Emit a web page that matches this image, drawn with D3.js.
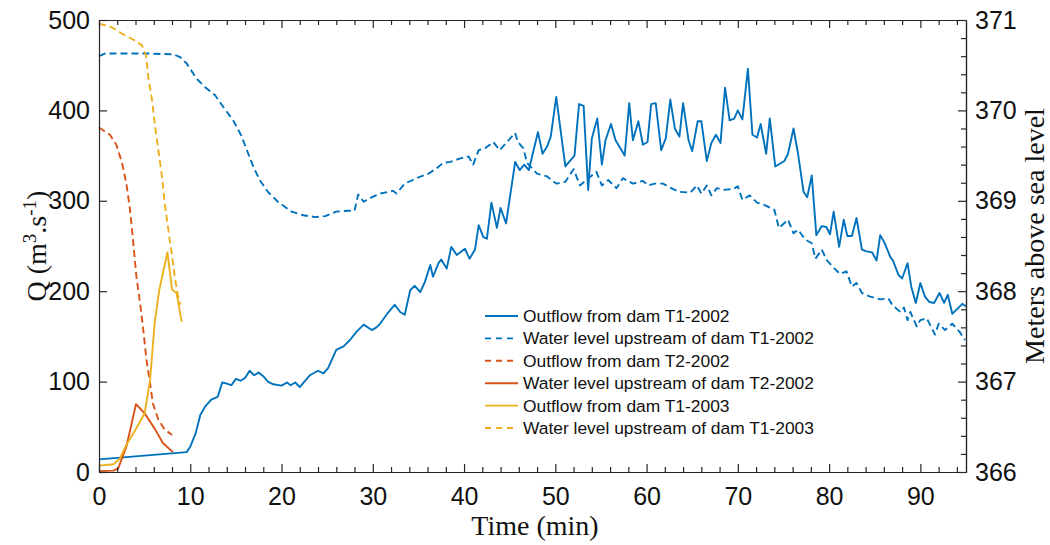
<!DOCTYPE html>
<html>
<head>
<meta charset="utf-8">
<script src="https://cdn.jsdelivr.net/npm/d3@7"></script>
<style>
  html, body { margin: 0; padding: 0; background: #fff; }
  svg { display: block; }
</style>
</head>
<body>
<svg id="chart" width="1050" height="545"></svg>
<script>
// ---------- data ----------
const xTicks = [0, 10, 20, 30, 40, 50, 60, 70, 80, 90];
const yLeftTicks = [0, 100, 200, 300, 400, 500];
const yRightTicks = [366, 367, 368, 369, 370, 371];

const legendLabels = [
  "Outflow from dam T1-2002",
  "Water level upstream of dam T1-2002",
  "Outflow from dam T2-2002",
  "Water level upstream of dam T2-2002",
  "Outflow from dam T1-2003",
  "Water level upstream of dam T1-2003"
];

// Outflow from dam T1-2002 (solid blue, left axis, m3/s)
const t1_2002_time = [0,9.6,10,10.6,11.1,11.6,12.3,13,13.5,13.9,14.5,15,15.5,16,16.5,17,17.5,18,18.5,19.1,20,20.6,21,21.5,22,22.6,23.1,24,24.6,25.1,26,26.8,27.5,28.2,29,29.9,30.4,30.8,31.5,32.4,33,33.5,34.1,34.6,35.2,35.7,36.3,36.6,37.2,37.5,38.1,38.6,39.2,40.1,40.6,41.2,41.6,42.1,42.5,43,43.6,44,44.6,45.6,46.1,46.6,47.1,48.1,48.6,49.1,49.5,50.1,51.1,52.1,52.6,53.1,53.6,54,54.6,55.1,55.5,56.1,56.6,57.6,58.1,58.5,59.1,59.6,60.1,60.5,61,61.6,62.1,62.6,63.1,63.6,64,64.6,65,65.6,66,66.6,67.1,67.6,68.1,68.6,69.1,69.6,70,70.5,71.1,71.6,72.1,72.5,73.1,73.5,74.1,74.6,75.1,75.5,76.1,76.6,77.2,77.6,78.1,78.6,79.2,79.7,80.1,80.5,81.1,81.6,82,82.5,83,83.6,84.1,84.7,85.2,85.6,86.1,86.7,87,87.6,88,88.6,89,89.5,90,90.5,91,91.5,92.1,92.6,93,93.5,94.1,94.6,95];
const t1_2002_outflow = [14,22,28,43,63,72,80,83,99,98,96,103,101,104,112,107,110,106,100,97,95.5,99,96,99,94,101,107,112,109,115,135,139,146,155,163,157,160,164,174,185,177,174,201,206,199,210,229,216,231,235,225,249,240,247,236,246,273,260,258,298,270,292,275,343,334,340,334,376,352,360,371,415,338,350,407,405,312,369,391,340,367,385,367,350,408,367,388,362,365,407,408,356,369,412,380,371,408,367,355,388,388,344,364,373,364,425,389,391,400,390,446,373,370,385,352,391,338,341,344,352,380,352,310,304,328,262,272,271,263,288,249,279,261,261,281,246,244,243,234,262,253,238,234,218,214,231,205,187,209,194,188,187,198,187,196,175,181,186,183];

// Water level upstream of dam T1-2002 (dashed blue, right axis, m a.s.l.)
const t1_2002_level_time = [0,0.7,5.2,8.1,8.9,9.6,10.7,11.6,12.7,13.6,14.7,15.6,16.2,16.9,17.6,18.5,19.6,21.1,22.4,23.7,24.8,26,27.3,28,28.4,29,29.9,30.8,32.2,32.6,33.5,34.8,36.1,37,37.7,38.5,39.6,40.5,41,41.6,42.3,43.2,43.9,44.7,45.6,45.9,46.5,46.9,48,49.1,50.1,51.1,52,52.7,53.4,54.5,55.1,55.8,56.7,57.4,58.5,59.6,60.2,60.9,61.8,62.7,63.5,64.8,65.5,66,66.6,67.1,67.7,68.4,69.5,70,70.5,71.3,72.1,73,74,74.5,75.5,76.1,76.6,77.4,78.1,78.5,79.2,79.7,80.4,81.2,81.9,82.5,83,83.6,84.5,85.6,86.5,86.9,87.8,88.2,88.6,88.9,89.6,90,90.7,91.6,92,92.7,93.5,94.3,94.9];
const t1_2002_level = [370.6,370.63,370.63,370.62,370.59,370.52,370.35,370.26,370.17,370.04,369.89,369.72,369.56,369.38,369.23,369.10,368.99,368.88,368.84,368.82,368.83,368.88,368.89,368.89,369.07,368.99,369.04,369.08,369.11,369.08,369.19,369.25,369.30,369.36,369.42,369.43,369.47,369.49,369.40,369.56,369.58,369.65,369.56,369.65,369.75,369.65,369.58,369.42,369.30,369.27,369.19,369.21,369.35,369.17,369.23,369.32,369.17,369.23,369.14,369.25,369.19,369.22,369.17,369.19,369.19,369.14,369.10,369.09,369.17,369.08,369.17,369.06,369.14,369.12,369.13,369.16,369.01,369.06,368.98,368.95,368.90,368.70,368.79,368.64,368.68,368.57,368.53,368.36,368.46,368.35,368.27,368.19,368.22,368.05,368.09,367.98,367.94,367.91,367.92,367.85,367.77,367.82,367.68,367.77,367.61,367.68,367.70,367.52,367.64,367.57,367.64,367.55,367.46];

// Outflow from dam T2-2002 (dashed orange, right axis)
const t2_2002_dash_time = [0,1.2,1.9,2.5,3.0,3.4,3.7,4.1,4.5,4.9,5.2,5.6,5.9,6.5,7.2,8.0];
const t2_2002_dash = [369.81,369.73,369.62,369.43,369.19,368.90,368.60,368.16,367.87,367.53,367.24,366.98,366.76,366.58,366.47,366.41];

// Water level upstream of dam T2-2002 (solid orange, left axis)
const t2_2002_solid_time = [0,1.6,2.1,3.0,4.05,5.0,6.1,7.0,8.1];
const t2_2002_solid = [1,1.5,4,28,75,65,48,32,22];

// Outflow from dam T1-2003 (solid yellow, left axis)
const t1_2003_time = [0,1.6,2.3,3.0,3.9,5.0,5.6,6.1,6.6,7.5,8.0,8.5,9.06];
const t1_2003_outflow = [7,8.5,15,30,45,65,102,165,201,243,202,198,166];

// Water level upstream of dam T1-2003 (dashed yellow, right axis)
const t1_2003_level_time = [0,1.4,2.5,3.8,4.7,5.15,5.4,5.8,6.1,6.5,6.9,7.2,7.5,7.8,8.0,8.3,8.6,8.9];
const t1_2003_level = [370.96,370.92,370.85,370.78,370.72,370.61,370.37,370.12,369.86,369.56,369.27,368.97,368.75,368.53,368.40,368.16,367.98,367.85];

// ---------- layout ----------
const svg = d3.select("#chart");
const L = 99, R = 966, T = 20, B = 472;
const axisColor = "#262626";
const blue = "#0072BD", orange = "#D95319", yellow = "#EDB120";

const x = d3.scaleLinear().domain([0, 95]).range([L, R]);
const yL = d3.scaleLinear().domain([0, 500]).range([B, T]);
const yR = d3.scaleLinear().domain([366, 371]).range([B, T]);

const zip = (a, b) => a.map((v, i) => [v, b[i]]);

const series = [
  {data: zip(t1_2002_time, t1_2002_outflow), y: yL, color: blue, dash: null},
  {data: zip(t1_2002_level_time, t1_2002_level), y: yR, color: blue, dash: "7,4"},
  {data: zip(t2_2002_dash_time, t2_2002_dash), y: yR, color: orange, dash: "7,4"},
  {data: zip(t2_2002_solid_time, t2_2002_solid), y: yL, color: orange, dash: null},
  {data: zip(t1_2003_time, t1_2003_outflow), y: yL, color: yellow, dash: null},
  {data: zip(t1_2003_level_time, t1_2003_level), y: yR, color: yellow, dash: "7,4"}
];

// ---------- lines ----------
const g = svg.append("g");
series.forEach(s => {
  const line = d3.line().x(d => x(d[0])).y(d => s.y(d[1]));
  g.append("path")
    .datum(s.data)
    .attr("d", line)
    .attr("fill", "none")
    .attr("stroke", s.color)
    .attr("stroke-width", 1.9)
    .attr("stroke-linejoin", "round")
    .attr("stroke-dasharray", s.dash);
});

// ---------- axes ----------
function styleAxis(sel) {
  sel.selectAll("path.domain").attr("stroke", axisColor).attr("stroke-width", 1.2);
  sel.selectAll(".tick line").attr("stroke", axisColor).attr("stroke-width", 1.2);
  sel.selectAll(".tick text")
    .attr("fill", "#111")
    .style("font-family", "'Liberation Sans', Arial, sans-serif")
    .style("font-size", "25px");
}
const minorX = d3.range(0, 96, 2).filter(v => v % 10 !== 0);
const minorR = d3.range(0, 26).map(i => 366 + i * 0.2).filter((v, i) => i % 5 !== 0);

// bottom
svg.append("g").attr("transform", `translate(0,${B})`)
  .call(d3.axisBottom(x).tickValues(xTicks).tickSizeInner(-8).tickSizeOuter(0).tickPadding(15).tickFormat(d3.format("d")))
  .call(styleAxis).call(s => s.selectAll(".tick text").attr("dy", "0.71em"));
svg.append("g").attr("transform", `translate(0,${B})`)
  .call(d3.axisBottom(x).tickValues(minorX).tickSizeInner(-5).tickSizeOuter(0).tickFormat(""))
  .call(styleAxis);
// top
svg.append("g").attr("transform", `translate(0,${T})`)
  .call(d3.axisTop(x).tickValues(xTicks).tickSizeInner(-8).tickSizeOuter(0).tickFormat(""))
  .call(styleAxis);
svg.append("g").attr("transform", `translate(0,${T})`)
  .call(d3.axisTop(x).tickValues(minorX).tickSizeInner(-5).tickSizeOuter(0).tickFormat(""))
  .call(styleAxis);
// left
svg.append("g").attr("transform", `translate(${L},0)`)
  .call(d3.axisLeft(yL).tickValues(yLeftTicks).tickSizeInner(-8).tickSizeOuter(0).tickPadding(9).tickFormat(d3.format("d")))
  .call(styleAxis);
// right
svg.append("g").attr("transform", `translate(${R},0)`)
  .call(d3.axisRight(yR).tickValues(yRightTicks).tickSizeInner(-8).tickSizeOuter(0).tickPadding(9).tickFormat(d3.format("d")))
  .call(styleAxis);
svg.append("g").attr("transform", `translate(${R},0)`)
  .call(d3.axisRight(yR).tickValues(minorR).tickSizeInner(-5).tickSizeOuter(0).tickFormat(""))
  .call(styleAxis);

// ---------- axis titles ----------
const serif = "'Liberation Serif', 'Times New Roman', serif";
svg.append("text")
  .attr("x", 535).attr("y", 535)
  .attr("text-anchor", "middle")
  .style("font-family", serif).style("font-size", "28px").attr("fill", "#111")
  .text("Time (min)");

const ql = svg.append("text")
  .attr("transform", "translate(46,246) rotate(-90)")
  .attr("text-anchor", "middle")
  .style("font-family", serif).style("font-size", "28px").attr("fill", "#111");
ql.append("tspan").text("Q (m");
ql.append("tspan").attr("dy", "-10").style("font-size", "19px").text("3");
ql.append("tspan").attr("dy", "10").text(".s");
ql.append("tspan").attr("dy", "-10").style("font-size", "19px").text("-1");
ql.append("tspan").attr("dy", "10").text(")");

svg.append("text")
  .attr("transform", "translate(1044,236) rotate(-90)")
  .attr("text-anchor", "middle")
  .style("font-family", serif).style("font-size", "28px").attr("fill", "#111")
  .text("Meters above sea level");

// ---------- legend ----------
const leg = svg.append("g");
const legY = d3.scalePoint().domain(legendLabels).range([316, 428]);
legendLabels.forEach((lab, i) => {
  const s = series[i];
  const yy = legY(lab);
  leg.append("line")
    .attr("x1", 485).attr("x2", 518).attr("y1", yy).attr("y2", yy)
    .attr("stroke", s.color).attr("stroke-width", 1.9)
    .attr("stroke-dasharray", s.dash ? "6,5" : null);
  leg.append("text")
    .attr("x", 523).attr("y", yy).attr("dy", "0.35em")
    .style("font-family", "'Liberation Sans', Arial, sans-serif")
    .style("font-size", "17.4px").attr("fill", "#111")
    .text(lab);
});
</script>
</body>
</html>
